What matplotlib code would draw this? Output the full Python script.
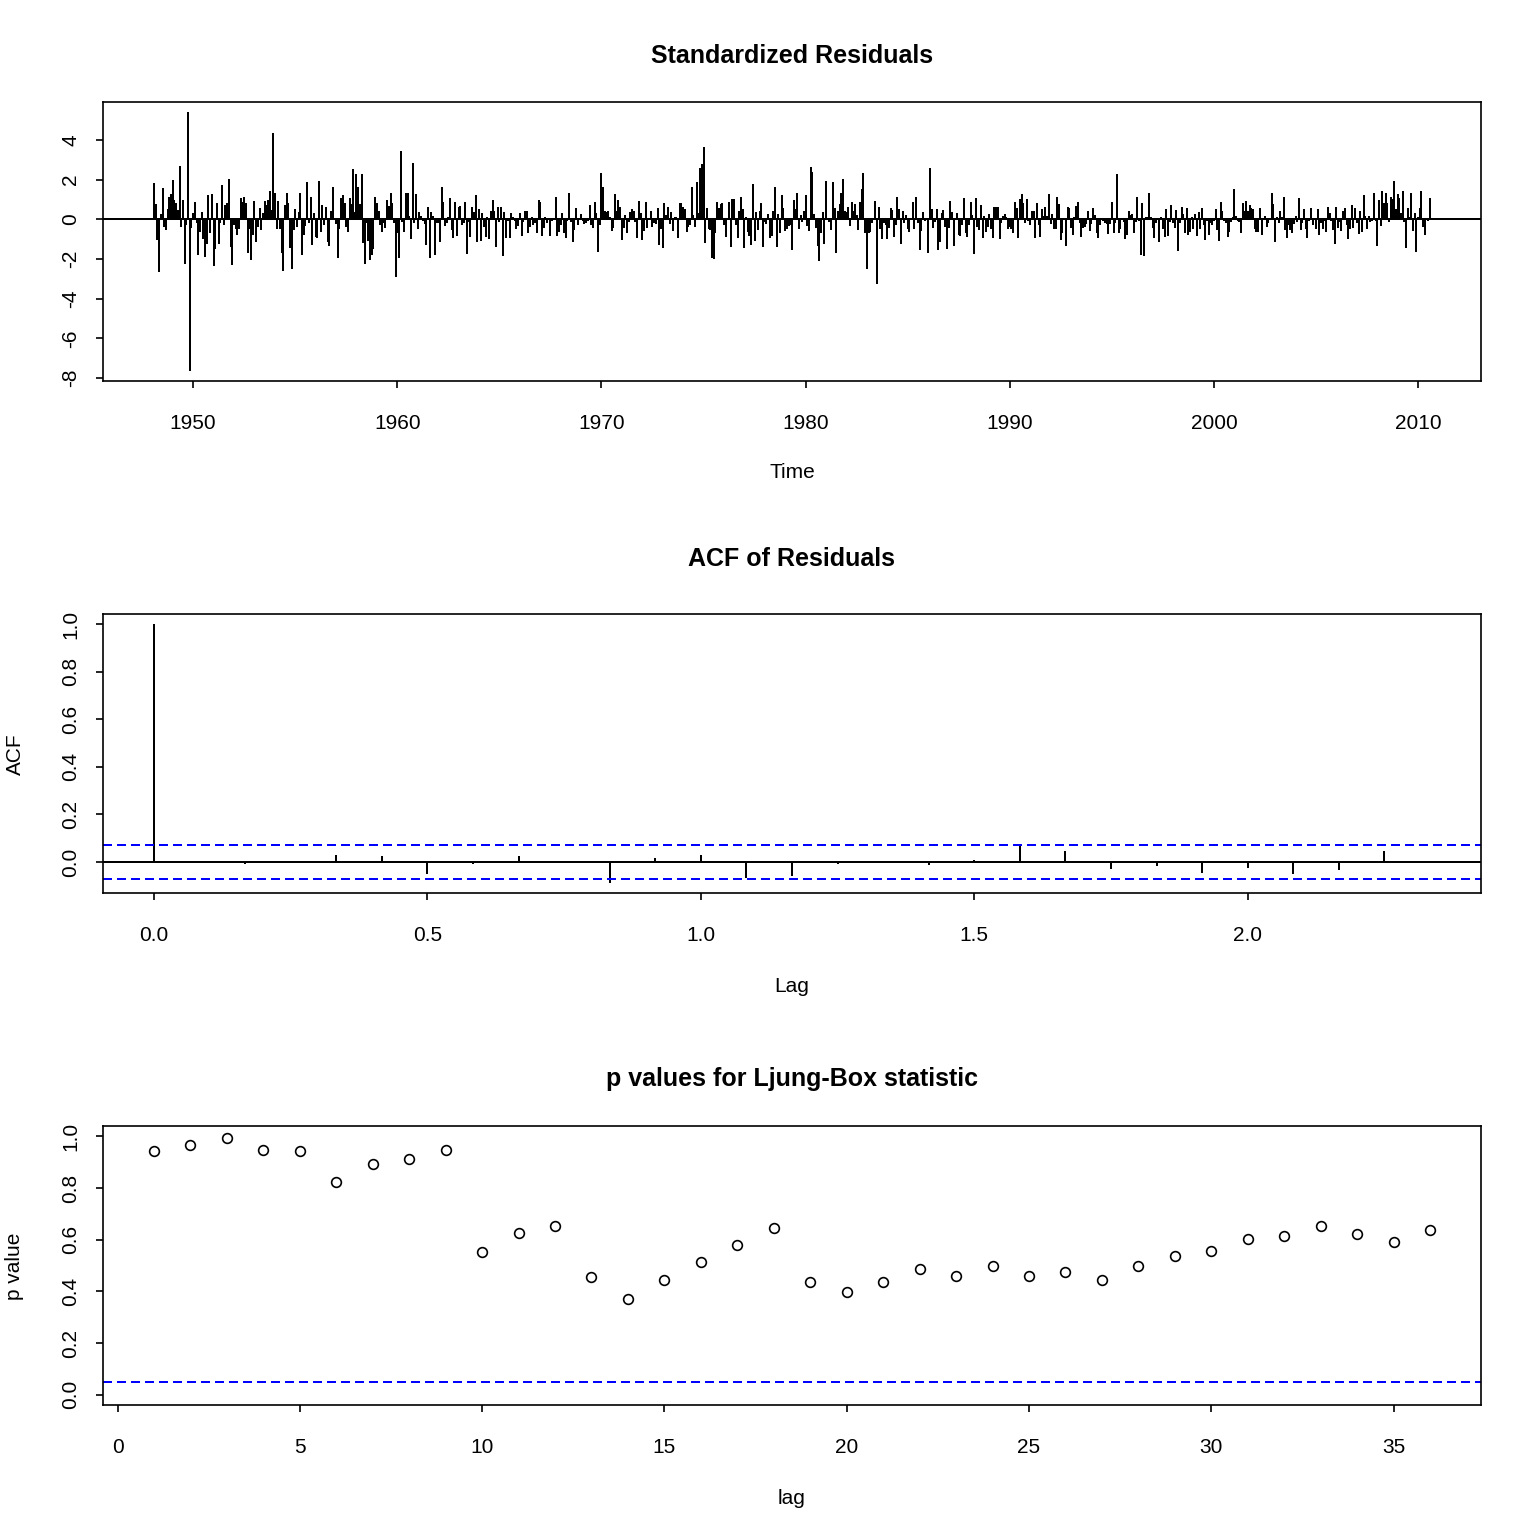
import numpy as np
import matplotlib.pyplot as plt

plt.rcParams['font.family'] = ['Liberation Sans', 'DejaVu Sans']
plt.rcParams['axes.unicode_minus'] = False

# monthly standardized residuals, Feb 1948 onwards
start_year = 1948
start_month = 2
resid = [
    1.82, 0.76, -1.05, -2.65, 0.25, 1.57, -0.37, -0.54, 0.5, 1.15,
    1.3, 2.0, 1.0, 0.81, 0.47, 2.7, -0.37, 1.0, -2.23, -0.3,
    5.4, -7.63, -0.41, 0.34, 0.89, -0.2, -1.8, -0.62, 0.35, -1.0,
    -1.89, -1.22, 1.22, -0.68, 1.28, -2.35, -1.47, 0.81, -1.22, -0.2,
    1.72, -0.29, 0.74, 0.84, 2.03, -1.38, -2.31, -0.29, -0.46, -0.79,
    -0.46, 1.06, 0.88, 1.11, 0.81, -1.72, -0.46, -2.06, -0.79, 0.95,
    -1.13, -0.37, 0.59, -0.51, 0.34, 0.95, 0.73, 0.98, 1.45, 0.47,
    4.35, 1.35, -0.46, 0.91, -0.49, -1.72, -2.6, 0.73, 1.32, 0.84,
    -1.43, -2.48, -0.54, 0.51, -0.37, 0.39, 1.32, -1.8, -0.79, -0.34,
    1.87,
    -0.17, 1.15, -1.3, 0.3, -0.88, -0.96, 1.92, -0.62, 0.71, -0.29,
    0.61, -1.13, -1.35, 0.42, 1.62, -0.05, -0.24, -1.94, -0.46, 1.1,
    1.22, 0.84, -0.37, -0.62, 1.06, 0.78, 2.53, 0.35, 2.28, 1.65,
    0.78, 2.28, -1.18, -2.26, -0.2, -1.08, -2.06, -1.8, -1.47, 1.15,
    0.81, 0.44, -0.29, -0.62, -0.2, -0.41, 1.0, 0.68, 1.32, 0.81,
    -0.2, -2.9, -0.71, -1.94, 3.43, -0.14, -0.62, 1.35, 1.32, 0.17,
    -1.0, 2.84, -0.2, 1.27, -0.49, 0.35, 0.19, -0.07, -0.24, -1.3,
    0.64, -1.94, 0.35, 0.19, -1.8, -0.2, -0.2, -1.13, 1.62, 0.89,
    -0.34, -0.2, 0.13, 1.1, -0.54, -0.96, 0.89, -0.84, 0.64, 0.69,
    -0.29, -0.17, 0.86, -1.76,
    -0.12, -0.88, 0.61, 0.37, 1.22, -1.13, 0.51, -1.08, 0.3, -0.37,
    -0.88, 0.13, -1.0, 0.44, 1.0, 0.4, -1.38, 0.61, -0.12, 0.64,
    -1.84, 0.35, -0.93, -0.07, -0.96, 0.3, 0.13, -0.07, -0.47, -0.34,
    0.34, -0.84, -0.12, 0.4, 0.44, -0.68, -0.37, 0.1, -0.29, -0.2,
    -0.68, 1.0, 0.86, -0.84, -0.41, 0.13, -0.17, 0.08, -0.84, -0.07,
    0.08, 1.15, -0.84, -0.62, -0.29, 0.3, -0.68, -0.96, -0.07, 1.32,
    -0.12, -1.15, -0.54, 0.56, -0.29, 0.05, 0.25, -0.07, -0.24, -0.17,
    -0.07, 0.71, -0.29, -0.44, 0.86, 0.3, -1.64, -0.29, 2.36, 1.62,
    0.4, 0.37, 0.44, 0.1, -0.59, -0.44, 1.27, 0.44, 1.0, 0.61,
    -1.05, -0.41, 0.22, -0.68, -0.12,
    0.35, 0.51, 0.4, -0.12, -0.95, 0.91, 0.3, -1.05, -0.57, 0.86,
    -0.42, 0.08, 0.4, -0.37, -0.17, -0.24, 0.56, -1.3, -0.46, -1.43,
    0.81, 0.22, 0.64, -0.24, 0.39, -0.57, 0.13, 0.1, -0.95, 0.81,
    0.81, 0.61, 0.51, -0.62, -0.37, -0.29, 1.62, 0.22, -0.37, 1.87,
    0.3, 2.58, 2.78, 3.65, -1.18, 0.56, -0.46, -0.51, -1.94, -2.0,
    -0.68, 0.86, 0.56, 0.78, 0.81, -0.29, -0.88, -0.03, 0.86, -1.38,
    1.05, 1.01, -0.29, -0.93, 0.42, 1.15, 0.51, -1.43, 0.13, -0.62,
    -0.84, -1.3, 1.77, -1.08, 0.35, -0.54, 0.4, 0.81, -1.38, -0.12,
    -0.24, 0.25, -0.93, -0.84, 0.4, 1.62, -1.38, 0.25, -0.68, 1.22,
    0.56,
    -0.57, -0.46, -0.34, -0.29, -1.55, 1.0, 0.51, 1.32, -0.49, 0.2,
    -0.12, 0.44, 1.22, -0.34, -0.59, 2.62, 2.38, 0.25, -0.41, -1.35,
    -2.11, -0.71, 0.35, -1.25, 1.96, -0.03, -0.12, -0.51, 1.87, 0.56,
    -1.72, 0.44, 0.78, 1.32, 2.03, 0.44, 0.37, 0.61, -0.34, 0.86,
    0.44, 0.78, 0.22, -0.54, 0.86, 1.52, 2.33, -0.71, -2.51, -0.68,
    -0.62, -0.2, 0.08, 0.95, -3.27, 0.64, -0.49, -1.0, -0.17, -0.29,
    -1.0, -0.41, 0.59, 0.47, -0.88, -0.29, 1.15, 0.54, -1.25, 0.44,
    -0.2, 0.22, -0.46, -0.64, 0.05, 0.89, -0.46, 1.15, -0.17, -1.55,
    -0.59, 0.39, -0.07, 0.08, -1.72, 2.58, 0.51, -0.44, -0.14, 0.51,
    -1.55, -1.13, 0.34, 0.47, -0.37, -1.5, -0.44,
    0.95, 0.39, -1.35, 0.08, 0.3, -0.79, -0.84, -0.29, 1.06, -0.71,
    -0.88, -0.29, 0.86, 0.22, -1.76, 1.06, -0.37, -0.54, 0.71, -0.93,
    0.19, -0.62, -0.37, 0.25, -0.46, -0.93, 0.64, 0.64, 0.61, -1.0,
    -0.17, 0.19, 0.25, 0.1, -0.49, -0.37, -0.46, -0.71, 0.89, 0.56,
    -0.93, 1.01, 1.27, 0.81, -0.2, 1.01, -0.07, -0.29, 0.44, 0.4,
    -0.93, 0.81, -0.29, -0.88, 0.51, 0.19, 0.61, 0.19, 1.27, -0.24,
    0.25, -0.46, -0.49, 1.15, 0.76, -1.05, -0.68, 0.05, -1.35, 0.61,
    0.56, -0.44, -0.79, 0.13, 0.69, 0.86, -0.2, -0.91, -0.41, -0.37,
    -0.24, 0.44, -0.59, -0.24, 0.59, 0.22, -0.68, -0.96, -0.29, 0.08,
    -0.07, -0.2, -0.24, -0.74,
    -0.24, 0.89, -0.71, -0.2, 2.28, -0.68, -0.46, 0.08, -0.12, -1.0,
    -0.79, 0.44, 0.22, 0.25, -0.68, -0.12, 1.15, -0.07, -1.8, 0.81,
    -1.84, 0.13, 0.13, 1.35, 0.13, -0.41, -0.96, -0.17, 0.08, -1.13,
    0.13, -0.46, -0.88, 0.54, -0.83, -0.12, 0.74, -0.2, -0.41, 0.47,
    -1.6, -0.2, 0.64, 0.27, -0.68, 0.59, -0.79, -0.62, 0.13, -0.46,
    0.25, -0.84, 0.39, -0.46, 0.59, -0.29, -1.05, -0.07, -0.79, -0.17,
    -0.29, -0.07, 0.54, -0.54, -1.08, 0.89, 0.44, -0.07, -0.17, -0.88,
    -0.62, -0.12, 0.13, 1.52, 0.17, -0.07, -0.12, -0.68, 0.81, 0.44,
    0.95, 0.44, 0.71, 0.59, 0.51, -0.46, -0.62, -0.62, 0.59, -0.79,
    0.08, 0.17, -0.37, -0.17,
    0.08, 1.32, 0.76, -1.13, 0.13, -0.2, 0.44, 0.1, 1.15, -0.54,
    -0.96, -0.29, -0.54, -0.68, -0.24, 0.19, -0.12, 1.1, -0.54, -0.17,
    0.54, -0.46, -0.93, -0.07, 0.59, -0.29, 0.08, -0.46, 0.54, -0.79,
    -0.17, -0.46, -0.07, -0.62, 0.64, 0.3, -0.07, -0.54, -1.25, 0.64,
    -0.41, -0.12, -0.59, 0.44, 0.59, -0.29, -1.0, -0.46, 0.71, -0.41,
    0.59, -0.17, -0.74, 0.44, -0.62, 1.22, 0.17, -0.46, 0.19, -0.12,
    -0.07, 1.32, -0.07, -1.35, 1.0, -0.34, 1.45, 0.84, 1.32, 0.81,
    -0.12, 1.15, 1.01, 1.96, 0.51, 1.27, 1.1, 0.3, 1.45, -0.12,
    -1.43, 0.59, 0.13, 1.32, -0.59, 0.3, -1.64, 0.1, 0.56, 1.42,
    -0.37, -0.79, 0.05, -0.1, 1.06,
]

# ACF of residuals, lags 0..28 months
acf_vals = [1.0, 0.003, -0.007, -0.004, 0.03, 0.025, -0.049, -0.007, 0.025, 0.0,
            -0.087, 0.017, 0.03, -0.068, -0.058, -0.007, 0.0, -0.011, 0.007, 0.07,
            0.046, -0.028, -0.015, -0.046, -0.024, -0.049, -0.034, 0.046, 0.0]

# Ljung-Box p values, lags 1..36
lb_pvals = [0.942, 0.965, 0.992, 0.946, 0.942, 0.825, 0.894, 0.913, 0.948, 0.553,
            0.626, 0.653, 0.457, 0.370, 0.444, 0.515, 0.581, 0.647, 0.437, 0.398,
            0.435, 0.488, 0.461, 0.499, 0.461, 0.476, 0.444, 0.499, 0.538, 0.558,
            0.604, 0.616, 0.651, 0.620, 0.592, 0.639]


def r_range(lo, hi):
    d = (hi - lo) * 0.04
    return lo - d, hi + d


def style(ax):
    for s in ax.spines.values():
        s.set_linewidth(1.2)
    ax.tick_params(direction='out', length=5, width=1.2, labelsize=15)
    ax.tick_params(axis='x', pad=18.5)
    ax.tick_params(axis='y', pad=11.5, labelrotation=90)
    for lab in ax.get_yticklabels():
        lab.set_va('center')


W = 1536
fig = plt.figure(figsize=(15.36, 15.36), dpi=100)
left = 103 / W
width = (1481 - 103) / W
height = 279 / W
blue_dash = dict(color='#0000FF', linewidth=1.2, linestyle=(0, (5, 3.5)), antialiased=False)

# --- standardized residuals ---
ax1 = fig.add_axes([left, 1 - 381 / W, width, height])
n = len(resid)
t = start_year + (start_month - 1 + np.arange(n)) / 12
ax1.vlines(t, 0, resid, colors='black', linewidth=1.2, antialiased=False)
ax1.axhline(0, color='black', linewidth=1.2, antialiased=False)
ax1.set_xlim(r_range(t[0], t[-1]))
ax1.set_ylim(r_range(min(resid), max(resid)))
ax1.set_xticks(np.arange(1950, 2011, 10))
ax1.set_yticks(np.arange(-8, 5, 2))
style(ax1)

# --- ACF ---
ax2 = fig.add_axes([left, 1 - 893 / W, width, height])
lags = np.arange(len(acf_vals)) / 12
conf = 1.96 / np.sqrt(n)
ax2.vlines(lags, 0, acf_vals, colors='black', linewidth=1.2, antialiased=False)
ax2.axhline(0, color='black', linewidth=1.2, antialiased=False)
for c in (conf, -conf):
    ax2.axhline(c, **blue_dash)
ax2.set_xlim(r_range(lags[0], lags[-1]))
ax2.set_ylim(r_range(min(-conf, min(acf_vals)), 1))
ax2.set_xticks([0, 0.5, 1.0, 1.5, 2.0])
ax2.set_xticklabels(['0.0', '0.5', '1.0', '1.5', '2.0'])
ax2.set_yticks([0, 0.2, 0.4, 0.6, 0.8, 1.0])
ax2.set_yticklabels(['0.0', '0.2', '0.4', '0.6', '0.8', '1.0'])
style(ax2)

# --- Ljung-Box p values ---
ax3 = fig.add_axes([left, 1 - 1405 / W, width, height])
lb_lags = np.arange(1, len(lb_pvals) + 1)
ax3.plot(lb_lags, lb_pvals, 'o', mfc='none', mec='black', ms=7, mew=1.2)
ax3.axhline(0.05, **blue_dash)
ax3.set_xlim(r_range(1, len(lb_pvals)))
ax3.set_ylim(r_range(0, 1))
ax3.set_xticks(np.arange(0, 36, 5))
ax3.set_yticks([0, 0.2, 0.4, 0.6, 0.8, 1.0])
ax3.set_yticklabels(['0.0', '0.2', '0.4', '0.6', '0.8', '1.0'])
style(ax3)

cx = left + width / 2
fig.text(cx, 1 - 56 / W, 'Standardized Residuals', ha='center', va='center',
         fontsize=18, fontweight='bold')
fig.text(cx, 1 - 559 / W, 'ACF of Residuals', ha='center', va='center',
         fontsize=18, fontweight='bold')
fig.text(cx, 1 - 1079 / W, 'p values for Ljung-Box statistic', ha='center', va='center',
         fontsize=18, fontweight='bold')

fig.text(cx, 1 - 473 / W, 'Time', ha='center', va='center', fontsize=15)
fig.text(cx, 1 - 986 / W, 'Lag', ha='center', va='center', fontsize=15)
fig.text(cx, 1 - 1498 / W, 'lag', ha='center', va='center', fontsize=15)
fig.text(15 / W, 1 - 754 / W, 'ACF', ha='center', va='center', fontsize=15, rotation=90)
fig.text(15 / W, 1 - 1266 / W, 'p value', ha='center', va='center', fontsize=15, rotation=90)

fig.savefig('out.png', dpi=100)
